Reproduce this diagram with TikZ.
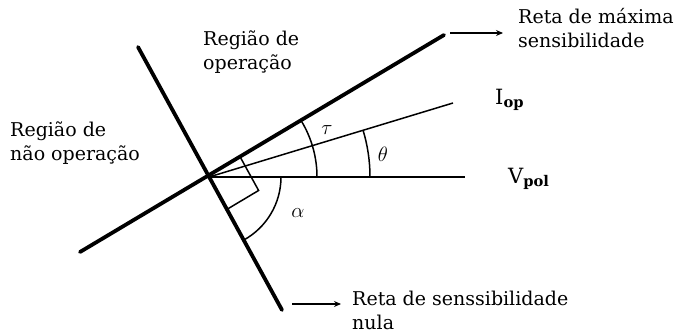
\documentclass[tikz,border=0pt]{standalone}
\usepackage{fontspec}
\setmainfont{DejaVu Serif}
\usepackage{tikz}
\usetikzlibrary{arrows.meta, positioning, calc}

\begin{document}
\begin{tikzpicture}[x=1pt, y=1pt,
    thickline/.style={line width=3.8pt, line cap=round},
    thinline/.style={line width=1.5pt},
    lbl/.style={align=left, font=\fontsize{19}{24}\selectfont, inner sep=0pt},
    sym/.style={font=\fontsize{21}{24}\selectfont, inner sep=0pt},
    pointer/.style={-{Stealth[length=7pt, width=6pt]}, line width=1.2pt}]
    \useasboundingbox (0,0) rectangle (685,335);

    % Lines
    \coordinate (O) at (209,158);
    \coordinate (maxlow) at (80,83);
    \coordinate (maxtop) at (444,300);
    \coordinate (nulltop) at (138,288);
    \coordinate (nulllow) at (282,25);
    \coordinate (vpolend) at (465,158);
    \coordinate (iopend) at (453,232);
    \draw[thickline] (maxlow) -- (maxtop); % Max sensitivity
    \draw[thickline] (nulltop) -- (nulllow); % Null sensitivity
    \draw[thinline] (O) -- (vpolend);
    \draw[thinline] (O) -- (iopend);

    % Angles
    \draw[thinline] ($(O)+(161,0)$) arc (0:16.9:161);
    \draw[thinline] ($(O)+(108,0)$) arc (0:30.8:108);
    \draw[thinline] ($(O)+(72,0)$) arc (0:-61.2:72);
    \draw[thinline] ($(O)+(30.8:37)$) -- ++(-61.2:37) -- ($(O)+(-61.2:37)$); % Right angle

    % Labels
    \node[sym] (tau) at (327,205) {$\tau$};
    \node[sym] (theta) at (383,181) {$\theta$};
    \node[sym] (alpha) at (298,122) {$\alpha$};
    \node[sym, anchor=west] (iop) at (495,235) {$\mathrm{I}_{\mathbf{op}}$};
    \node[sym, anchor=west] (vpol) at (508,156) {$\mathrm{V}_{\mathbf{pol}}$};
    \node[lbl, anchor=west] (oper) at (203,283) {Região de\\operação};
    \node[lbl, anchor=west] (nonoper) at (10,192) {Região de\\não operação};
    \node[lbl, anchor=west] (maxlbl) at (518,307) {Reta de máxima\\sensibilidade};
    \node[lbl, anchor=west] (nulllbl) at (352,25) {Reta de senssibilidade\\nula};

    % Pointers
    \coordinate (maxtail) at (450,302);
    \coordinate (nulltail) at (292,31);
    \draw[pointer] (maxtail) -- ($(maxtail -| maxlbl.west)+(-15,0)$);
    \draw[pointer] (nulltail) -- ($(nulltail -| nulllbl.west)+(-11,0)$);
\end{tikzpicture}
\end{document}
